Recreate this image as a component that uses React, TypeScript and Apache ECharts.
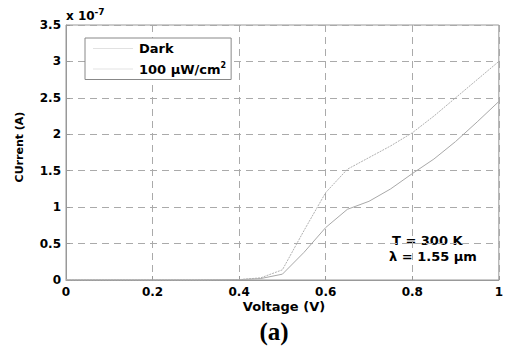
import React, { useEffect, useRef } from "react";
import * as echarts from "echarts";

const voltage = [0, 0.1, 0.2, 0.3, 0.4, 0.45, 0.5, 0.55, 0.6, 0.65, 0.7, 0.75, 0.8, 0.85, 0.9, 0.95, 1.0];
const darkCurrent = [0, 0, 0, 0, 0.005, 0.02, 0.08, 0.38, 0.72, 0.97, 1.08, 1.25, 1.46, 1.66, 1.9, 2.17, 2.45];
const lightCurrent = [0, 0, 0, 0, 0.005, 0.03, 0.14, 0.68, 1.2, 1.52, 1.68, 1.84, 2.02, 2.25, 2.5, 2.75, 3.0];
const seriesNames = ["Dark", "100 µW/cm²"];

const FONT = "DejaVu Sans, Verdana, sans-serif";

export default function App() {
  const ref = useRef<HTMLDivElement>(null);
  useEffect(() => {
    if (!ref.current) return;
    const chart = echarts.init(ref.current, undefined, { renderer: "svg" });
    const axisLabel = { color: "#000", fontWeight: "bold" as const, fontSize: 12, fontFamily: FONT };
    const split = { show: true, lineStyle: { color: "#aaa", type: [7, 5] as any, width: 1 } };
    chart.setOption({
      animation: false,
      backgroundColor: "#fff",
      grid: { left: 66, right: 4, top: 25, bottom: 69, show: true, borderColor: "#999", borderWidth: 1 },
      xAxis: {
        type: "value",
        min: 0,
        max: 1,
        interval: 0.2,
        axisLine: { show: true, lineStyle: { color: "#999" } },
        axisTick: { show: true, inside: true, length: 4, lineStyle: { color: "#999" } },
        axisLabel: { ...axisLabel, margin: 6, formatter: (v: number) => String(+v.toFixed(1)) },
        splitLine: split,
      },
      yAxis: {
        type: "value",
        min: 0,
        max: 3.5,
        interval: 0.5,
        axisLine: { show: true, lineStyle: { color: "#999" } },
        axisTick: { show: true, inside: true, length: 4, lineStyle: { color: "#999" } },
        axisLabel: { ...axisLabel, margin: 5, formatter: (v: number) => String(+v.toFixed(1)) },
        splitLine: split,
      },
      legend: {
        orient: "vertical",
        left: 85,
        top: 38,
        itemWidth: 40,
        itemHeight: 14,
        itemGap: 6,
        padding: [4, 5, 4, 8],
        backgroundColor: "#fff",
        borderColor: "#888",
        borderWidth: 1,
        borderRadius: 0,
        icon: "path://M0,7L40,7L40,7.6L0,7.6Z",
        formatter: (name: string) => (name === seriesNames[1] ? "100 µW/cm{s|2}" : name),
        textStyle: {
          color: "#000",
          fontWeight: "bold",
          fontSize: 13,
          fontFamily: FONT,
          padding: [0, 0, 0, 1],
          rich: { s: { fontSize: 8, fontWeight: "bold", fontFamily: FONT, color: "#000", padding: [0, 0, 8, 0] } },
        },
        data: seriesNames,
      },
      series: [
        {
          name: seriesNames[0],
          type: "line",
          showSymbol: false,
          data: voltage.map((v, i) => [v, darkCurrent[i]]),
          lineStyle: { color: "#a8a8a8", width: 1 },
          itemStyle: { color: "#c4c4c4" },
        },
        {
          name: seriesNames[1],
          type: "line",
          showSymbol: false,
          data: voltage.map((v, i) => [v, lightCurrent[i]]),
          lineStyle: { color: "#b0b0b0", width: 1, type: [2, 1] as any },
          itemStyle: { color: "#c8c8c8" },
        },
      ],
      graphic: [
        {
          type: "text",
          left: 66,
          top: 7,
          style: {
            text: "x 10{s|-7}",
            rich: { s: { fontSize: 9, fontWeight: "bold", fontFamily: FONT, verticalAlign: "top", padding: [0, 0, 8, 0] } },
            fontSize: 12,
            fontWeight: "bold",
            fontFamily: FONT,
            fill: "#000",
          },
        },
        {
          type: "text",
          x: 19,
          y: 147,
          rotation: Math.PI / 2,
          style: {
            text: "CUrrent (A)",
            fontSize: 11,
            fontWeight: "bold",
            fontFamily: FONT,
            fill: "#000",
            align: "center",
            verticalAlign: "middle",
          },
        },
        {
          type: "text",
          x: 284,
          y: 306,
          style: {
            text: "Voltage (V)",
            fontSize: 13,
            fontWeight: "bold",
            fontFamily: FONT,
            fill: "#000",
            align: "center",
            verticalAlign: "middle",
          },
        },
        {
          type: "text",
          x: 274,
          y: 331,
          style: {
            text: "(a)",
            fontSize: 25,
            fontWeight: "bold",
            fontFamily: "Liberation Serif, Times New Roman, serif",
            fill: "#000",
            align: "center",
            verticalAlign: "middle",
          },
        },
        {
          type: "text",
          x: 392,
          y: 240,
          style: {
            text: "T = 300 K",
            fontSize: 13,
            fontWeight: "bold",
            fontFamily: FONT,
            fill: "#000",
            verticalAlign: "middle",
          },
        },
        {
          type: "text",
          x: 389,
          y: 256,
          style: {
            text: "λ = 1.55 µm",
            fontSize: 13,
            fontWeight: "bold",
            fontFamily: FONT,
            fill: "#000",
            verticalAlign: "middle",
          },
        },
      ],
    });
    return () => chart.dispose();
  }, []);
  return <div ref={ref} style={{ width: 506, height: 349, position: "absolute", left: 0, top: 0 }} />;
}
